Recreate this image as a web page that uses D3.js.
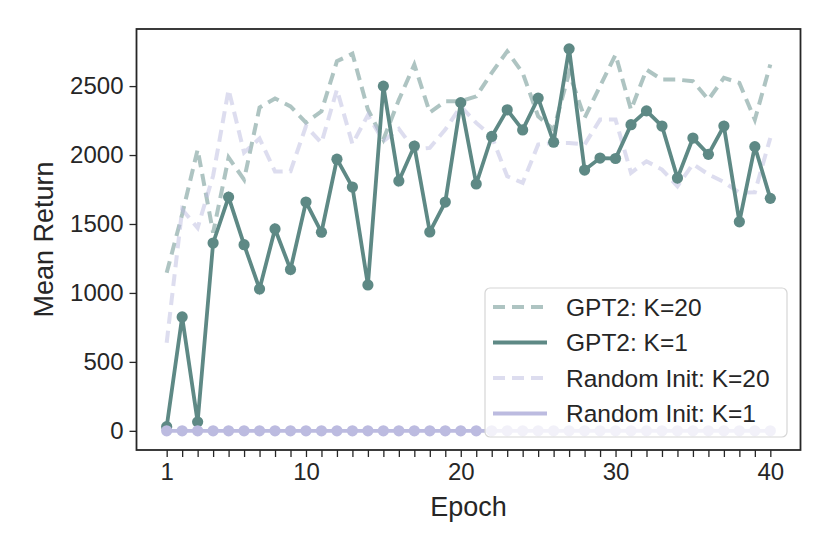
<!DOCTYPE html>
<meta charset="utf-8">
<title>Mean Return per Epoch</title>
<script src="https://d3js.org/d3.v7.min.js"></script>
<style>
  body { margin: 0; background: #fff; }
  text { font-family: "Liberation Sans", Arial, Helvetica, sans-serif; fill: #262626; }
</style>
<body>
<div id="chart"></div>
<script>

// epochs 1..40
var epochs = [1,2,3,4,5,6,7,8,9,10,11,12,13,14,15,16,17,18,19,20,
              21,22,23,24,25,26,27,28,29,30,31,32,33,34,35,36,37,38,39,40];

var gpt2K20 = [1146,1570,2040,1437,1982,1822,2344,2410,2353,2235,
               2317,2680,2735,2330,2112,2400,2656,2308,2390,2390,
               2426,2596,2752,2596,2281,2185,2596,2270,2499,2728,
               2328,2619,2547,2547,2535,2402,2559,2523,2257,2656];

var gpt2K1 = [30,826,65,1362,1695,1350,1029,1464,1170,1659,
              1440,1970,1768,1058,2500,1812,2065,1442,1659,2380,
              1790,2135,2328,2182,2413,2093,2770,1891,1978,1975,
              2220,2320,2210,1833,2123,2005,2210,1516,2061,1686];

var randK20 = [639,1605,1472,1850,2475,2018,2120,1880,1883,2210,
               2088,2475,2080,2290,2100,2190,2040,2052,2185,2353,
               2233,2136,1846,1798,2076,2088,2088,2076,2257,2257,
               1871,1955,1895,1774,1935,1860,1805,1726,1730,2124];

var randK1 = [0,0,0,0,0,0,0,0,0,0,0,0,0,0,0,0,0,0,0,0,
              0,0,0,0,0,0,0,0,0,0,0,0,0,0,0,0,0,0,0,0];

var yTicks = [0, 500, 1000, 1500, 2000, 2500];
var xTickLabels = [1, 10, 20, 30, 40];

var seriesNames = ["GPT2: K=20", "GPT2: K=1", "Random Init: K=20", "Random Init: K=1"];

var teal = "#5e8985",
    lavender = "#bcbbe0";

var margin = {top: 29, right: 29.5, bottom: 104, left: 136.5},
    width = 830 - margin.left - margin.right,
    height = 554 - margin.top - margin.bottom;

var svg = d3.select("#chart")
  .append("svg")
    .attr("width", 830)
    .attr("height", 554)
  .append("g")
    .attr("transform", "translate(" + margin.left + "," + margin.top + ")");

var x = d3.scaleLinear()
  .domain([-0.95, 41.95])
  .range([0, width]);

var y = d3.scaleLinear()
  .domain([-139, 2914])
  .range([height, 0]);

// axes
var xAxis = svg.append("g")
  .attr("transform", "translate(0," + height + ")")
  .call(d3.axisBottom(x)
    .tickValues(epochs)
    .tickSize(7)
    .tickPadding(6)
    .tickFormat(function(d) { return xTickLabels.indexOf(d) >= 0 ? d : ""; }));

var yAxis = svg.append("g")
  .call(d3.axisLeft(y)
    .tickValues(yTicks)
    .tickSize(7)
    .tickPadding(6)
    .tickFormat(d3.format("d")));

[xAxis, yAxis].forEach(function(a) {
  a.select(".domain").remove();
  a.selectAll(".tick line").attr("stroke", "#262626").attr("stroke-width", 1.3);
  a.selectAll(".tick text")
    .style("font-size", "24px")
    .style("font-family", "Liberation Sans, Arial, sans-serif")
    .attr("fill", "#262626");
});

svg.append("text")
  .attr("text-anchor", "middle")
  .attr("x", width / 2)
  .attr("y", height + 66)
  .style("font-size", "27px")
  .text("Epoch");

svg.append("text")
  .attr("text-anchor", "middle")
  .attr("transform", "translate(" + (-84) + "," + (height / 2) + ") rotate(-90)")
  .style("font-size", "27px")
  .text("Mean Return");

// lines
var line = d3.line()
  .x(function(d, i) { return x(epochs[i]); })
  .y(function(d) { return y(d); });

svg.append("path")
  .datum(gpt2K20)
  .attr("fill", "none")
  .attr("stroke", teal)
  .attr("stroke-opacity", 0.5)
  .attr("stroke-width", 4)
  .attr("stroke-dasharray", "12,7")
  .attr("d", line);

svg.append("path")
  .datum(randK20)
  .attr("fill", "none")
  .attr("stroke", lavender)
  .attr("stroke-opacity", 0.5)
  .attr("stroke-width", 4)
  .attr("stroke-dasharray", "12,7")
  .attr("d", line);

svg.append("path")
  .datum(gpt2K1)
  .attr("fill", "none")
  .attr("stroke", teal)
  .attr("stroke-width", 3.8)
  .attr("d", line);

svg.selectAll("gptdots")
  .data(gpt2K1)
  .enter()
  .append("circle")
    .attr("cx", function(d, i) { return x(epochs[i]); })
    .attr("cy", function(d) { return y(d); })
    .attr("r", 5.6)
    .attr("fill", teal);

svg.append("path")
  .datum(randK1)
  .attr("fill", "none")
  .attr("stroke", lavender)
  .attr("stroke-width", 3.8)
  .attr("d", line);

svg.selectAll("randdots")
  .data(randK1)
  .enter()
  .append("circle")
    .attr("cx", function(d, i) { return x(epochs[i]); })
    .attr("cy", function(d) { return y(d); })
    .attr("r", 5.6)
    .attr("fill", lavender);

// frame
svg.append("rect")
  .attr("x", 0)
  .attr("y", 0)
  .attr("width", width)
  .attr("height", height)
  .attr("fill", "none")
  .attr("stroke", "#262626")
  .attr("stroke-width", 1.8);

// legend
var legend = svg.append("g")
  .attr("transform", "translate(" + (485 - margin.left) + "," + (288 - margin.top) + ")");

legend.append("rect")
  .attr("width", 302)
  .attr("height", 149)
  .attr("rx", 5)
  .attr("fill", "#fff")
  .attr("fill-opacity", 0.8)
  .attr("stroke", "#d6d6d6")
  .attr("stroke-width", 1.2);

var legendStyles = [
  {color: teal, opacity: 0.5, dash: "12,7"},
  {color: teal, opacity: 1, dash: null},
  {color: lavender, opacity: 0.5, dash: "12,7"},
  {color: lavender, opacity: 1, dash: null}
];

var rowY = function(i) { return 19 + i * 35.5; };

legend.selectAll("legendlines")
  .data(seriesNames)
  .enter()
  .append("line")
    .attr("x1", 8)
    .attr("x2", 62)
    .attr("y1", function(d, i) { return rowY(i); })
    .attr("y2", function(d, i) { return rowY(i); })
    .attr("stroke", function(d, i) { return legendStyles[i].color; })
    .attr("stroke-opacity", function(d, i) { return legendStyles[i].opacity; })
    .attr("stroke-width", 4)
    .attr("stroke-dasharray", function(d, i) { return legendStyles[i].dash; });

legend.selectAll("legendlabels")
  .data(seriesNames)
  .enter()
  .append("text")
    .attr("x", 81)
    .attr("y", function(d, i) { return rowY(i); })
    .attr("dy", "0.35em")
    .style("font-size", "24.5px")
    .text(function(d) { return d; });

</script>
</body>
